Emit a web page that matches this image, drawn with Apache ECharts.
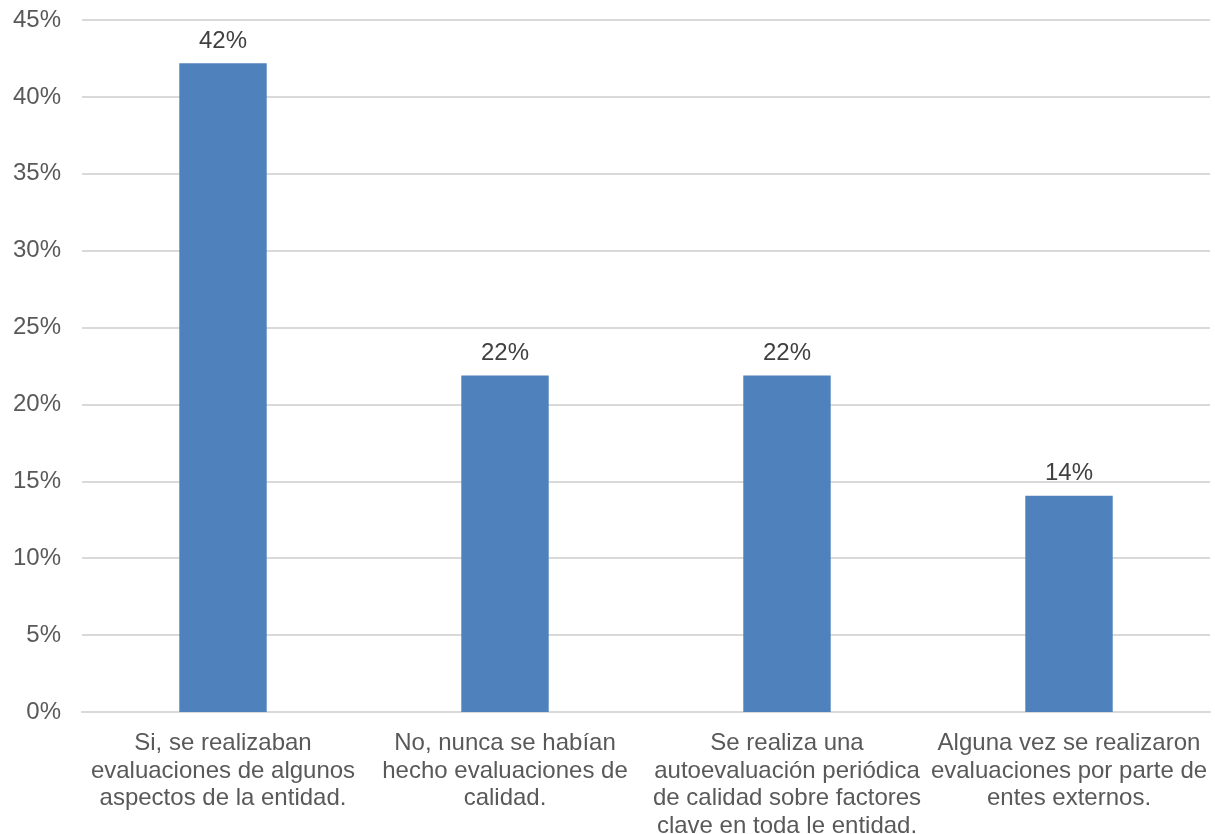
<!DOCTYPE html>
<html>
<head>
<meta charset="utf-8">
<script src="https://cdn.jsdelivr.net/npm/echarts@6/dist/echarts.min.js"></script>
<style>
  html, body { margin: 0; padding: 0; background: #fff; }
  #chart { width: 1215px; height: 834px; }
</style>
</head>
<body>
<div id="chart"></div>
<script>
// Survey answers about quality evaluations in the entity
const categories = [
  'Si, se realizaban\nevaluaciones de algunos\naspectos de la entidad.',
  'No, nunca se habían\nhecho evaluaciones de\ncalidad.',
  'Se realiza una\nautoevaluación periódica\nde calidad sobre factores\nclave en toda le entidad.',
  'Alguna vez se realizaron\nevaluaciones por parte de\nentes externos.'
];
// Share of responses, percent
const shares = [42.19, 21.88, 21.88, 14.06];
const yTicks = { min: 0, max: 45, interval: 5 };

const FONT = 'Liberation Sans, Arial, sans-serif';

const chart = echarts.init(document.getElementById('chart'));
chart.setOption({
  animation: false,
  grid: { left: 82, right: 5, top: 20, bottom: 122, containLabel: false, outerBoundsMode: 'none' },
  xAxis: {
    type: 'category',
    data: categories,
    axisLine: { show: true, lineStyle: { color: '#D9D9D9', width: 2 } },
    axisTick: { show: false },
    axisLabel: {
      interval: 0,
      margin: 18,
      color: '#595959',
      fontFamily: FONT,
      fontSize: 24,
      lineHeight: 27.5
    }
  },
  yAxis: {
    type: 'value',
    min: yTicks.min,
    max: yTicks.max,
    interval: yTicks.interval,
    axisLine: { show: false },
    axisTick: { show: false },
    splitLine: { lineStyle: { color: '#D9D9D9', width: 2 } },
    axisLabel: {
      margin: 21,
      color: '#595959',
      fontFamily: FONT,
      fontSize: 24,
      formatter: v => v + '%'
    }
  },
  series: [{
    type: 'bar',
    data: shares,
    barWidth: '31%',
    itemStyle: { color: '#4F81BD' },
    label: {
      show: true,
      position: 'top',
      distance: 10,
      color: '#404040',
      fontFamily: FONT,
      fontSize: 24,
      formatter: p => Math.round(p.value) + '%'
    }
  }]
});
</script>
</body>
</html>
